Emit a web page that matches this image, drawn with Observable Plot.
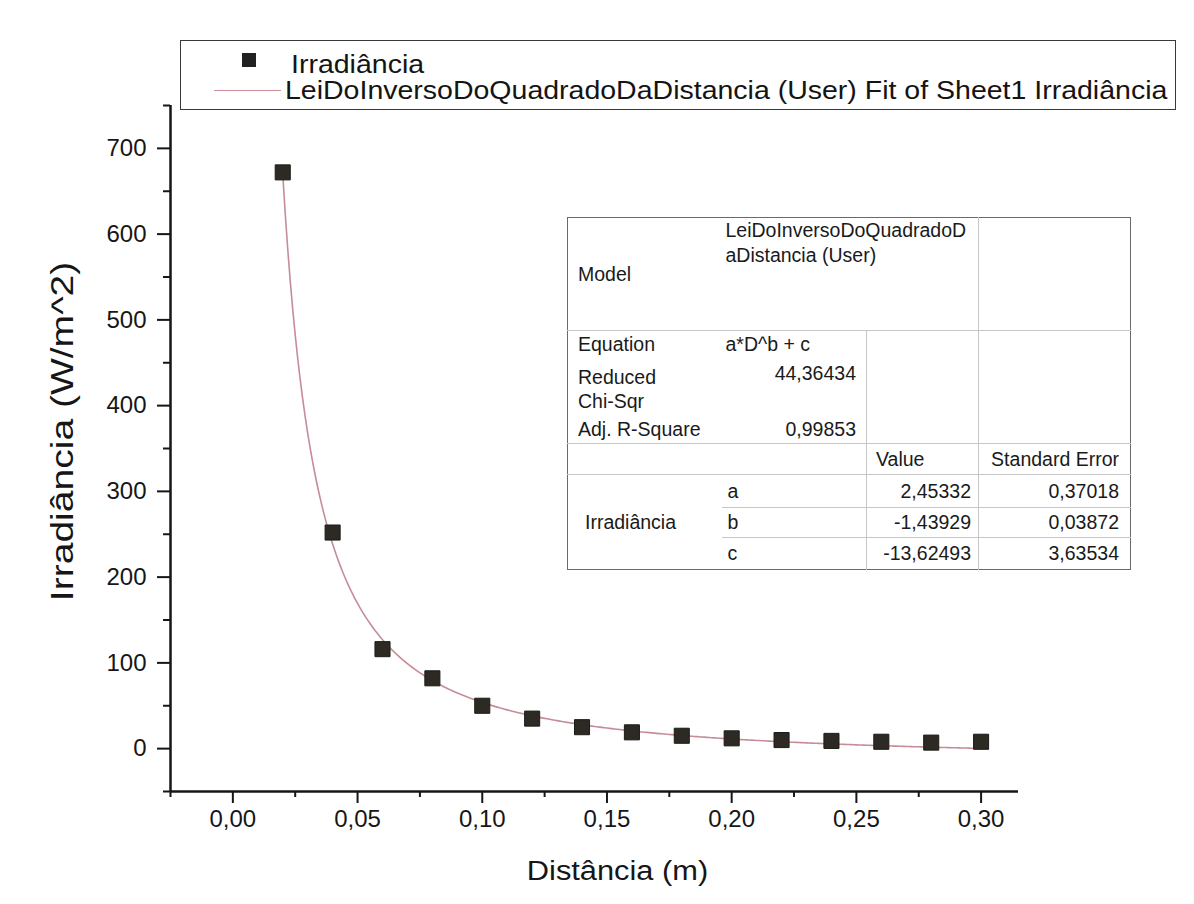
<!DOCTYPE html>
<html>
<head>
<meta charset="utf-8">
<script src="https://cdn.jsdelivr.net/npm/d3@7"></script>
<script src="https://cdn.jsdelivr.net/npm/@observablehq/plot@0.6"></script>
<style>
html, body { margin: 0; padding: 0; background: #ffffff; }
#wrap { position: relative; width: 1194px; height: 904px; overflow: hidden;
  font-family: "Liberation Sans", Arial, sans-serif; color: #161616; background: #ffffff; }
#chart { position: absolute; left: 0; top: 0; }
#legend { position: absolute; left: 180px; top: 40px; width: 996px; height: 70px;
  border: 1.5px solid #3a3a3a; background: #fff; box-sizing: border-box; }
#legend .sym { position: absolute; left: 61px; top: 12px; width: 14px; height: 14px; background: #222; }
#legend .ln { position: absolute; left: 33px; top: 49px; width: 67px; height: 0; border-top: 1.5px solid #c98e9a; }
#legend .t { position: absolute; font-size: 25px; line-height: 25px; white-space: nowrap; color: #141414;
  transform: scaleX(1.14); transform-origin: 0 50%; }
#fit { position: absolute; left: 567px; top: 217px; border-collapse: collapse; table-layout: fixed;
  width: 563px; border: 1.5px solid #6a6a6a; background: #fff; font-size: 19.5px; color: #1a1a1a; }
#fit td { padding: 0 8px; white-space: nowrap; vertical-align: middle; overflow: visible; }
#fit td.r { text-align: right; }
#fit td.bb { border-bottom: 1px solid #c6c6c6; }
#fit td.bl { border-left: 1px solid #c6c6c6; }
</style>
</head>
<body>
<div id="wrap">
  <div id="chart"></div>
  <div id="legend"></div>
  <table id="fit"></table>
</div>
<script>
// ---- data ----
const distances = [0.02, 0.04, 0.06, 0.08, 0.10, 0.12, 0.14, 0.16, 0.18, 0.20, 0.22, 0.24, 0.26, 0.28, 0.30];
const irradiance = [672, 252, 116, 82, 50, 35, 25, 19, 15, 12, 10, 9, 8, 7, 8];

// fit model a*D^b + c, parameters as printed in the table
const paramNames = ["a", "b", "c"];
const paramValues = [2.45332, -1.43929, -13.62493];
const paramErrors = [0.37018, 0.03872, 3.63534];
const reducedChiSqr = 44.36434;
const adjRSquare = 0.99853;
const modelName = ["LeiDoInversoDoQuadradoD", "aDistancia (User)"];
const equationText = "a*D^b + c";

const xMajorTicks = [0.00, 0.05, 0.10, 0.15, 0.20, 0.25, 0.30];
const xMinorTicks = [-0.025, 0.025, 0.075, 0.125, 0.175, 0.225, 0.275];
const yMajorTicks = [0, 100, 200, 300, 400, 500, 600, 700];
const yMinorTicks = [-50, 50, 150, 250, 350, 450, 550, 650, 750];

const xTitle = "Distância (m)";
const yTitle = "Irradiância (W/m^2)";
const legendLabels = ["Irradiância", "LeiDoInversoDoQuadradoDaDistancia (User) Fit of Sheet1 Irradiância"];

// ---- build tables ----
const points = distances.map((d, i) => ({D: d, I: irradiance[i]}));
const [pa, pb, pc] = paramValues;
const fitSampleD = d3.range(distances[0], distances[distances.length - 1] + 1e-9, 0.001);
const fitLine = fitSampleD.map(d => ({D: d, I: pa * Math.pow(d, pb) + pc}));

const comma = (v, n) => v.toFixed(n).replace(".", ",");

const chart = Plot.plot({
  width: 1194,
  height: 904,
  marginLeft: 170,
  marginRight: 176,
  marginTop: 105,
  marginBottom: 113,
  style: {fontFamily: "'Liberation Sans', Arial, sans-serif", background: "transparent", color: "#161616", overflow: "visible"},
  x: {domain: [-0.025, 0.315]},
  y: {domain: [-50, 750]},
  marks: [
    Plot.axisX(xMinorTicks, {tickSize: 6, strokeWidth: 2, tickFormat: () => "", label: null}),
    Plot.axisX(xMajorTicks, {tickSize: 12, tickPadding: 6, strokeWidth: 2, fontSize: 24, tickFormat: d => comma(d, 2), label: null}),
    Plot.axisY(yMinorTicks, {tickSize: 7, strokeWidth: 2, tickFormat: () => "", label: null}),
    Plot.axisY(yMajorTicks, {tickSize: 13, tickPadding: 11, strokeWidth: 2, fontSize: 24, tickFormat: d => String(d), label: null}),
    Plot.ruleX([-0.025], {stroke: "#161616", strokeWidth: 2.5}),
    Plot.ruleY([-50], {stroke: "#161616", strokeWidth: 2.5}),
    Plot.line(fitLine, {x: "D", y: "I", stroke: "#c48d98", strokeWidth: 1.6}),
    Plot.dot(points, {x: "D", y: "I", symbol: "square", r: 8.5, fill: "#2d2a24", stroke: "#1b1b18", strokeWidth: 1}),
    Plot.text([yTitle], {frameAnchor: "left", dx: -108, dy: -17, rotate: -90, textAnchor: "middle", lineAnchor: "middle", fontSize: 32, fill: "#161616"}),
    Plot.text([xTitle], {frameAnchor: "bottom", dx: 23, dy: 80, textAnchor: "middle", lineAnchor: "middle", fontSize: 28, fill: "#161616"})
  ]
});
// widen the axis titles slightly along their reading direction, as in the photographed print
d3.select(chart).selectAll("text").each(function() {
  const t = this.textContent;
  if (t === yTitle || t === xTitle) {
    const s = t === yTitle ? 1.22 : 1.1;
    const tr = this.getAttribute("transform") || "";
    this.setAttribute("transform", tr + ` scale(${s},1)`);
  }
});
document.getElementById("chart").appendChild(chart);

// legend
const legend = document.getElementById("legend");
legend.innerHTML =
  `<div class="sym"></div><div class="t" style="left:110px;top:11px">${legendLabels[0]}</div>` +
  `<div class="ln"></div><div class="t" style="left:104px;top:37px">${legendLabels[1]}</div>`;

// fit results table
const f5 = v => comma(v, 5);
let html = `<colgroup><col style="width:154px"><col style="width:145px"><col style="width:112px"><col style="width:152px"></colgroup>`;
html += `<tr style="height:113px"><td class="bb" style="padding-left:10px">Model</td>` +
        `<td colspan="2" class="bb" style="vertical-align:top;padding:0 4px;line-height:25px">${modelName[0]}<br>${modelName[1]}</td>` +
        `<td class="bb bl"></td></tr>`;
html += `<tr style="height:28px"><td style="padding-left:10px">Equation</td><td style="padding-left:4px">${equationText}</td><td class="bl"></td><td class="bl"></td></tr>`;
html += `<tr style="height:58px"><td style="vertical-align:top;padding:6px 0 0 10px;line-height:24px">Reduced<br>Chi-Sqr</td>` +
        `<td class="r" style="vertical-align:top;padding:2px 10px 0 0;line-height:24px">${f5(reducedChiSqr)}</td><td class="bl"></td><td class="bl"></td></tr>`;
html += `<tr style="height:27px"><td class="bb" style="padding-left:10px">Adj. R-Square</td><td class="bb r" style="padding-right:10px">${f5(adjRSquare)}</td><td class="bb bl"></td><td class="bb bl"></td></tr>`;
html += `<tr style="height:31px"><td class="bb"></td><td class="bb"></td><td class="bb bl" style="padding-left:9px">Value</td><td class="bb bl r" style="padding-right:11px">Standard Error</td></tr>`;
const rowH = [33, 30, 32];
paramNames.forEach((p, i) => {
  const last = i === paramNames.length - 1;
  const b = last ? "" : "bb ";
  html += `<tr style="height:${rowH[i]}px">` +
    (i === 0 ? `<td rowspan="3" style="padding-left:17px">${legendLabels[0]}</td>` : "") +
    `<td class="${b}" style="padding-left:6px">${p}</td>` +
    `<td class="${b}bl r" style="padding-right:7px">${f5(paramValues[i])}</td>` +
    `<td class="${b}bl r" style="padding-right:11px">${f5(paramErrors[i])}</td></tr>`;
});
document.getElementById("fit").innerHTML = html;
</script>
</body>
</html>
